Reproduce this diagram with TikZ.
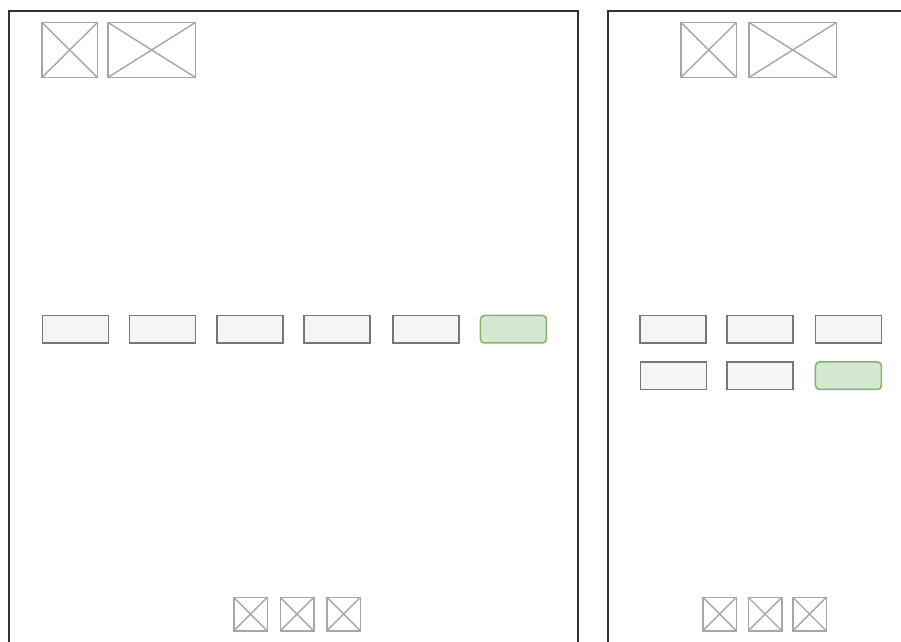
\documentclass[tikz,border=0pt]{standalone}
\definecolor{framec}{HTML}{333333}
\definecolor{imgc}{HTML}{A6A6A6}
\definecolor{btnfill}{HTML}{F5F5F5}
\definecolor{btnline}{HTML}{777777}
\definecolor{okfill}{HTML}{D5E8D4}
\definecolor{okline}{HTML}{82B366}
\tikzset{
  img/.style={draw=imgc, line width=1.5pt, anchor=north west, inner sep=0pt,
    path picture={\draw[imgc, line width=1.4pt] (path picture bounding box.north west) -- (path picture bounding box.south east)
      (path picture bounding box.south west) -- (path picture bounding box.north east);}},
  btn/.style={draw=btnline, fill=btnfill, line width=1.5pt, anchor=north west, inner sep=0pt,
    minimum width=66pt, minimum height=27.5pt},
  okbtn/.style={btn, draw=okline, fill=okfill, rounded corners=4pt},
  frame/.style={draw=framec, line width=1.5pt}
}
\begin{document}
\begin{tikzpicture}[x=1pt,y=-1pt]
\useasboundingbox (0,0) rectangle (901,641);
\clip (0,0) rectangle (901,641);
\fill[white] (0,0) rectangle (901,641);
% frames
\draw[frame] (9,660) -- (9,11) -- (578,11) -- (578,660);
\draw[frame] (608,660) -- (608,11) -- (920,11);
% top images
\node[img, minimum width=55.5pt, minimum height=55pt] (limg1) at (41.2,21.7) {};
\node[img, minimum width=87.5pt, minimum height=55pt] (limg2) at (107.2,21.7) {};
\node[img, minimum width=55.5pt, minimum height=55pt] (rimg1) at (680.2,21.7) {};
\node[img, minimum width=87.5pt, minimum height=55pt] (rimg2) at (748.2,21.7) {};
% left buttons
\node[btn] (lb1) at (41.5,314.7) {};
\node[btn] (lb2) at (128.9,314.7) {};
\node[btn] (lb3) at (216.2,314.7) {};
\node[btn] (lb4) at (303.2,314.7) {};
\node[btn] (lb5) at (392.2,314.7) {};
\node[okbtn] (lb6) at (479.7,314.7) {};
% right buttons
\node[btn] (rb1) at (639,314.7) {};
\node[btn] (rb2) at (726.2,314.7) {};
\node[btn] (rb3) at (814.7,314.7) {};
\node[btn] (rb4) at (639.5,361.2) {};
\node[btn] (rb5) at (726.2,361.2) {};
\node[okbtn] (rb6) at (814.7,361.2) {};
% bottom icons
\node[img, minimum width=33.5pt, minimum height=33.5pt] (lic1) at (233,596.5) {};
\node[img, minimum width=33.5pt, minimum height=33.5pt] (lic2) at (279.5,596.5) {};
\node[img, minimum width=33.5pt, minimum height=33.5pt] (lic3) at (326.2,596.5) {};
\node[img, minimum width=33.5pt, minimum height=33.5pt] (ric1) at (702.2,596.5) {};
\node[img, minimum width=33.5pt, minimum height=33.5pt] (ric2) at (747.5,596.5) {};
\node[img, minimum width=33.5pt, minimum height=33.5pt] (ric3) at (792,596.5) {};
\end{tikzpicture}
\end{document}
